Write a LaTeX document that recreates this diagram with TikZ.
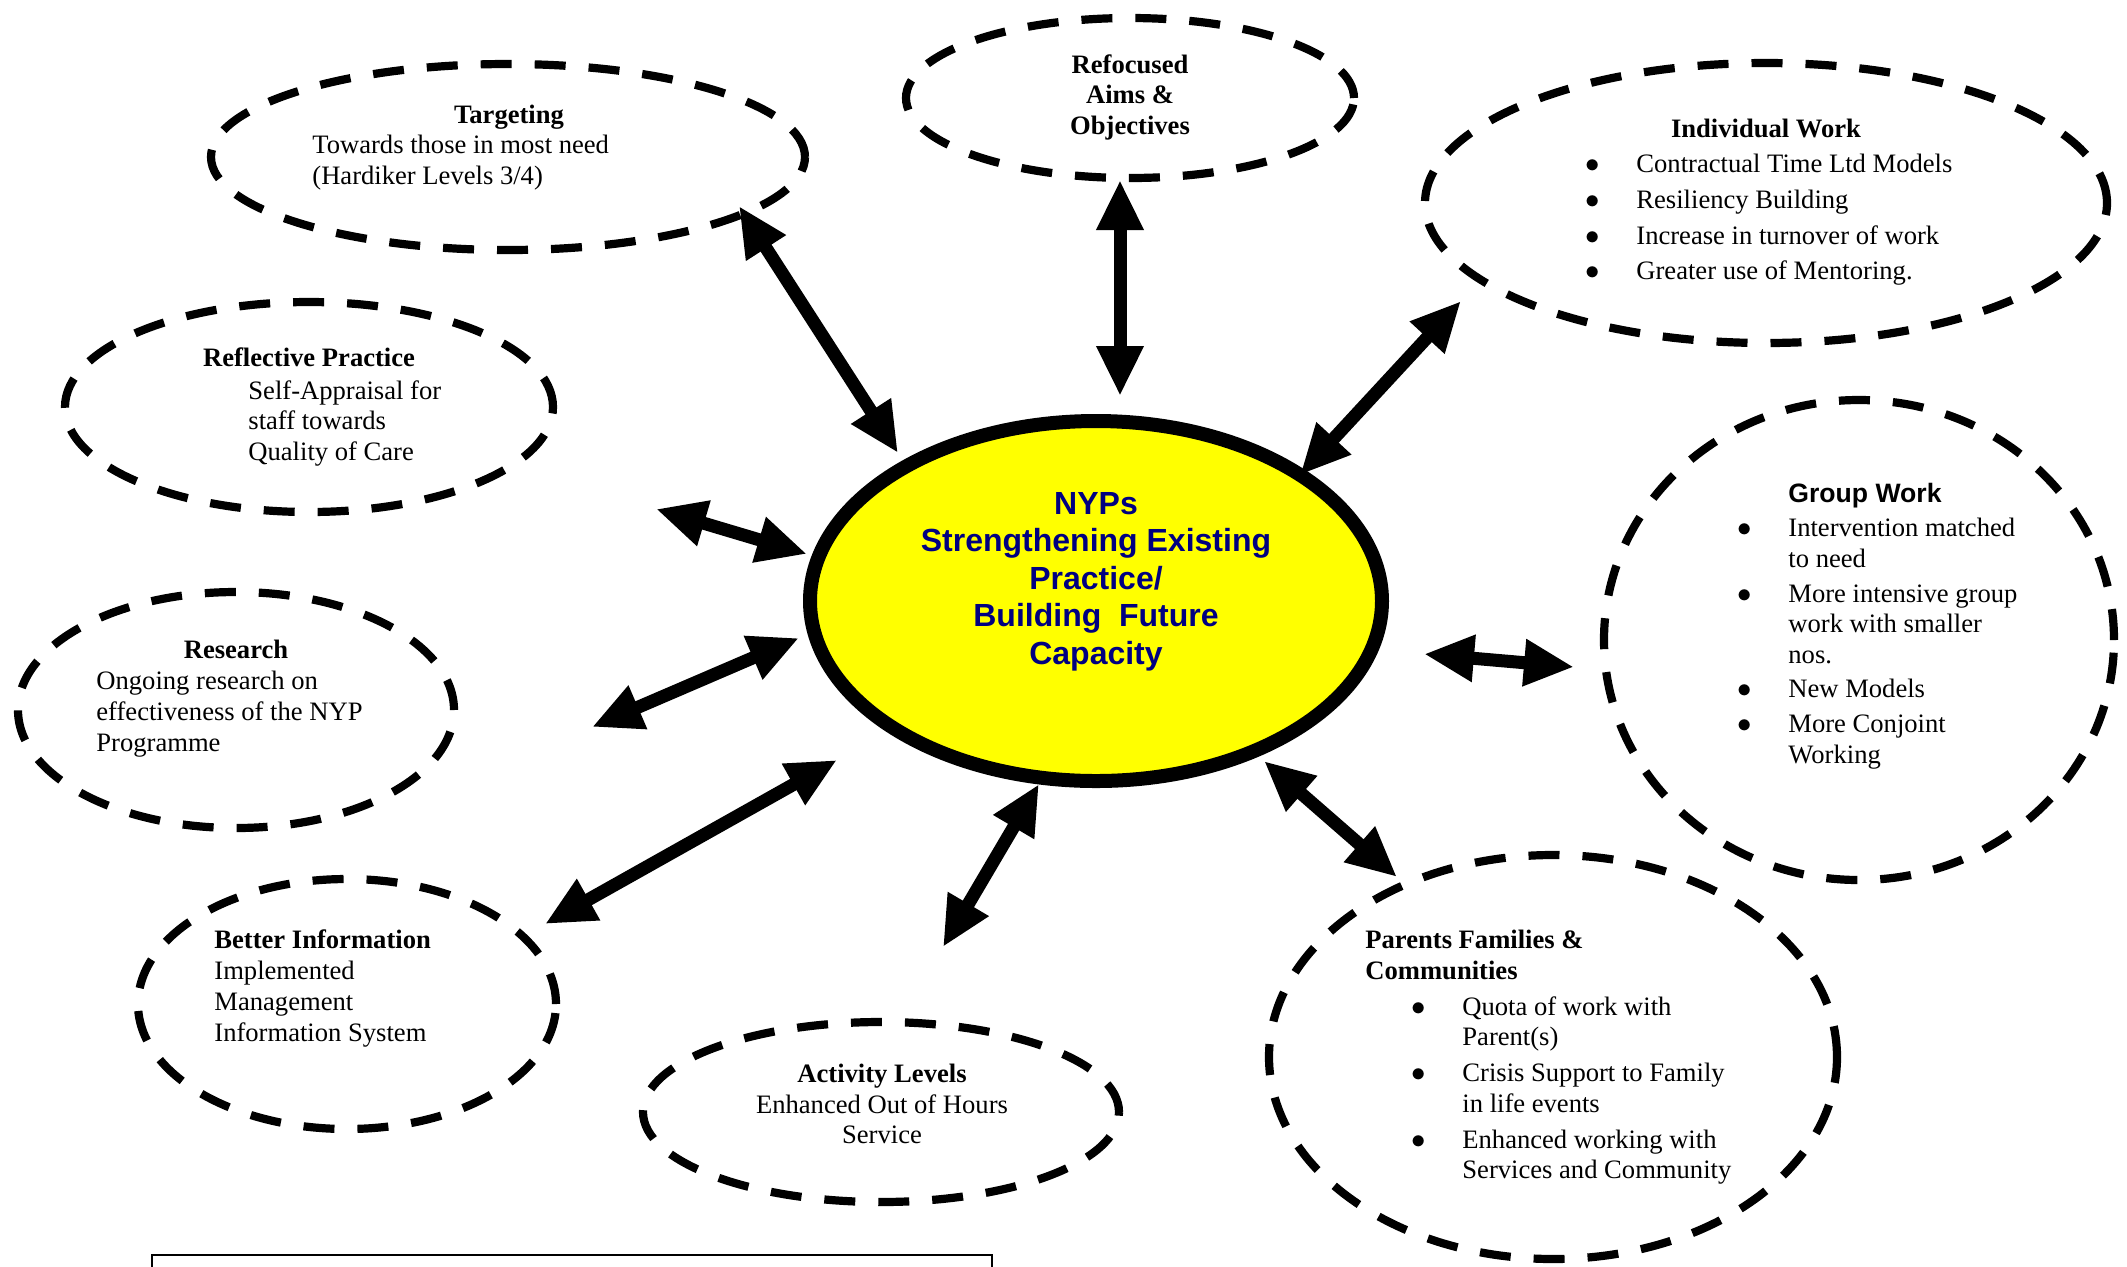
\documentclass[tikz,border=0pt]{standalone}
\usepackage{fontspec}
\setmainfont{Liberation Serif}
\setsansfont{Liberation Sans}
\usetikzlibrary{arrows.meta,shapes.geometric}
\definecolor{hubyellow}{RGB}{255,255,0}
\definecolor{hubnavy}{RGB}{0,0,128}
\newcommand{\blt}{\llap{$\bullet$\hspace{18.2pt}}}

\begin{document}
\begin{tikzpicture}[x=0.5pt,y=-0.5pt,>={Triangle[length=25pt,width=22pt]},
  bubble/.style={draw,ellipse,line width=4.1pt,dash pattern=on 15.5pt off 11.5pt,inner sep=0pt},
  hub/.style={draw,ellipse,line width=7pt,fill=hubyellow,inner sep=0pt},
  head/.style={inner sep=0pt,font=\fontsize{13.3}{15.3}\selectfont\bfseries},
  headsans/.style={inner sep=0pt,font=\sffamily\fontsize{13.3}{15.3}\selectfont\bfseries},
  body/.style={inner sep=0pt,font=\fontsize{13.3}{15.3}\selectfont},
  link/.style={<->,line width=6.5pt}]
  \useasboundingbox (0,0) rectangle (2127,1266);

  % dashed bubbles
  \node[bubble,minimum width=297pt,minimum height=93pt] (target) at (508,157) {};
  \node[bubble,minimum width=224pt,minimum height=80pt] (aims) at (1130,98) {};
  \node[bubble,minimum width=341pt,minimum height=140pt] (indiv) at (1766,203) {};
  \node[bubble,minimum width=244pt,minimum height=105pt] (reflect) at (309,407) {};
  \node[bubble,minimum width=218pt,minimum height=118pt] (research) at (236,710) {};
  \node[bubble,minimum width=209pt,minimum height=125pt] (info) at (347,1004) {};
  \node[bubble,minimum width=238pt,minimum height=90pt] (activity) at (881,1112) {};
  \node[bubble,minimum width=284pt,minimum height=202pt] (parents) at (1553,1057) {};
  \node[bubble,minimum width=255pt,minimum height=240pt] (group) at (1859,640) {};

  % centre
  \node[hub,minimum width=286pt,minimum height=180pt] (hub) at (1096,601) {};
  \node[inner sep=0pt,anchor=north,align=center,text=hubnavy,
        font=\sffamily\fontsize{16}{18.75}\selectfont\bfseries] (hubTxt) at (1096,492)
    {NYPs\\Strengthening Existing\\Practice/\\Building\ \ Future\\Capacity};

  % texts
  \node[head,anchor=base] (targetHead) at (509,123) {Targeting};
  \node[body,anchor=north west,align=left] (targetTxt) at (312,135)
    {Towards those in most need\\(Hardiker Levels 3/4)};
  \node[head,anchor=north,align=center] (aimsTxt) at (1130,54) {Refocused\\Aims \&\\Objectives};
  \node[head,anchor=base] (indivHead) at (1766,137) {Individual Work};
  \node[body,anchor=north west,align=left] (indivTxt) at (1636,154)
    {\blt Contractual Time Ltd Models\\[2.5pt]\blt Resiliency Building\\[2.5pt]
     \blt Increase in turnover of work\\[2.5pt]\blt Greater use of Mentoring.};
  \node[head,anchor=base] (reflectHead) at (309,366) {Reflective Practice};
  \node[body,anchor=north west,align=left] (reflectTxt) at (248,380)
    {Self-Appraisal for\\staff towards\\Quality of Care};
  \node[head,anchor=base] (researchHead) at (236,658) {Research};
  \node[body,anchor=north west,align=left] (researchTxt) at (96,671)
    {Ongoing research on\\effectiveness of the NYP\\Programme};
  \node[head,anchor=base west] (infoHead) at (214,948) {Better Information};
  \node[body,anchor=north west,align=left] (infoTxt) at (214,961)
    {Implemented\\Management\\Information System};
  \node[head,anchor=base] (activityHead) at (882,1082) {Activity Levels};
  \node[body,anchor=north,align=center] (activityTxt) at (882,1094) {Enhanced Out of Hours\\Service};
  \node[head,anchor=north west,align=left] (parentsHead) at (1365,930) {Parents Families \&\\Communities};
  \node[body,anchor=north west,align=left] (parentsTxt) at (1462,996)
    {\blt Quota of work with\\Parent(s)\\[2.7pt]\blt Crisis Support to Family\\in life events\\[2.7pt]
     \blt Enhanced working with\\Services and Community};
  \node[headsans,anchor=base] (groupHead) at (1865,502) {Group Work};
  \node[body,anchor=north west,align=left] (groupTxt) at (1788,518)
    {\blt Intervention matched\\to need\\[2pt]\blt More intensive group\\work with smaller\\nos.\\[2pt]
     \blt New Models\\[2pt]\blt More Conjoint\\Working};

  % arrow ends
  \coordinate (tgA) at (739,206);   \coordinate (tgB) at (898,453);
  \coordinate (amA) at (1120,180);  \coordinate (amB) at (1120,396);
  \coordinate (inA) at (1461,301);  \coordinate (inB) at (1300,475);
  \coordinate (rfA) at (656,509);   \coordinate (rfB) at (807,554);
  \coordinate (rsA) at (592,727);   \coordinate (rsB) at (799,638);
  \coordinate (biA) at (545,924);   \coordinate (biB) at (837,760);
  \coordinate (acA) at (943,947);   \coordinate (acB) at (1039,784);
  \coordinate (paA) at (1397,877);  \coordinate (paB) at (1264,761);
  \coordinate (gwA) at (1574,667);  \coordinate (gwB) at (1424,654);

  \draw[link] (tgA) -- (tgB);
  \draw[link] (amA) -- (amB);
  \draw[link] (inA) -- (inB);
  \draw[link] (rfA) -- (rfB);
  \draw[link] (rsA) -- (rsB);
  \draw[link] (biA) -- (biB);
  \draw[link] (acA) -- (acB);
  \draw[link] (paA) -- (paB);
  \draw[link] (gwA) -- (gwB);

  % box at the foot
  \draw[line width=1pt] (152,1280) -- (152,1255) -- (992,1255) -- (992,1280);
\end{tikzpicture}
\end{document}
